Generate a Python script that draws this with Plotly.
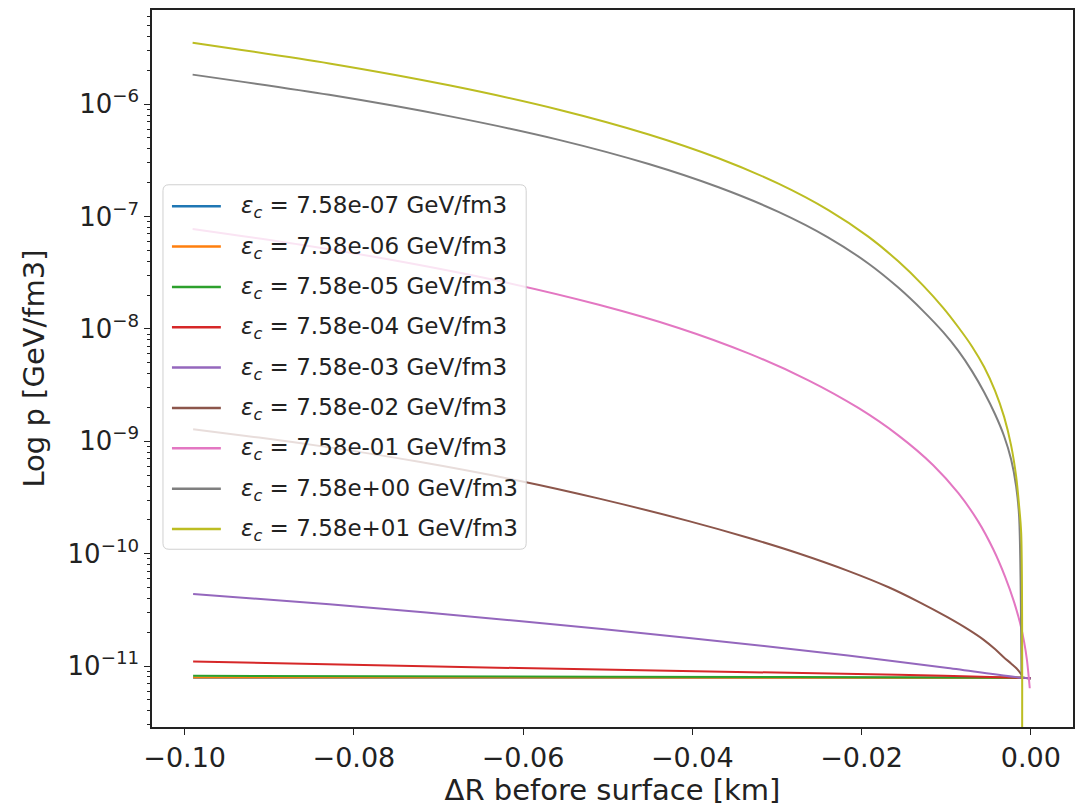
import plotly.graph_objects as go

# Central energy densities of the stellar models (GeV/fm3)
eps_c = ["7.58e-07", "7.58e-06", "7.58e-05", "7.58e-04", "7.58e-03",
         "7.58e-02", "7.58e-01", "7.58e+00", "7.58e+01"]

colors = ["#1f77b4", "#ff7f0e", "#2ca02c", "#d62728", "#9467bd",
          "#8c564b", "#e377c2", "#7f7f7f", "#bcbd22"]

# Pressure profiles (GeV/fm3) in the last 0.1 km below the surface (km)
dr_0 = [-0.0990, -0.0011, 0.0000]
p_0 = [7.88e-12, 7.87e-12, 7.79e-12]

dr_1 = [-0.0990, -0.0011, 0.0000]
p_1 = [7.92e-12, 7.87e-12, 7.79e-12]

dr_2 = [-0.0990, -0.0500, -0.0011, 0.0000]
p_2 = [8.20e-12, 8.02e-12, 7.87e-12, 7.79e-12]

dr_3 = [-0.0990, -0.0605, -0.0157, -0.0011, 0.0000]
p_3 = [1.10e-11, 9.60e-12, 8.37e-12, 7.87e-12, 7.79e-12]

dr_4 = [-0.0990, -0.0829, -0.0605, -0.0404, -0.0216, -0.0098, -0.0011, 0.0000]
p_4 = [4.39e-11, 3.55e-11, 2.52e-11, 1.78e-11, 1.24e-11, 9.62e-12, 7.87e-12,
       7.79e-12]

dr_5 = [-0.0990, -0.0912, -0.0829, -0.0723, -0.0605, -0.0510, -0.0404,
        -0.0333, -0.0275, -0.0216, -0.0168, -0.0133, -0.0098, -0.0074,
        -0.0056, -0.0042, -0.0032, -0.0023, -0.0017, -0.0011]
p_5 = [1.28e-09, 1.08e-09, 8.83e-10, 6.57e-10, 4.46e-10, 3.09e-10, 1.95e-10,
       1.38e-10, 1.01e-10, 7.04e-11, 5.03e-11, 3.75e-11, 2.71e-11, 2.12e-11,
       1.72e-11, 1.41e-11, 1.20e-11, 1.05e-11, 9.56e-12, 8.40e-12]

dr_6 = [-0.09906, -0.08645, -0.07465, -0.06285, -0.05105, -0.04162, -0.03336,
        -0.02628, -0.02038, -0.01566, -0.01153, -0.00858, -0.00622, -0.00445,
        -0.00303, -0.00197, -0.00126, -0.00079, -0.00044, -0.00012]
p_6 = [7.76e-08, 5.64e-08, 4.00e-08, 2.67e-08, 1.64e-08, 1.02e-08, 6.06e-09,
       3.49e-09, 1.98e-09, 1.13e-09, 6.13e-10, 3.47e-10, 1.94e-10, 1.10e-10,
       6.22e-11, 3.71e-11, 2.40e-11, 1.65e-11, 1.11e-11, 6.35e-12]

dr_7 = [-0.09906, -0.08291, -0.06875, -0.05577, -0.04515, -0.03690, -0.02982,
        -0.02392, -0.01920, -0.01566, -0.01271, -0.01035, -0.00858, -0.00693,
        -0.00551, -0.00422, -0.00315, -0.00232, -0.00173, -0.00138, -0.00110]
p_7 = [1.83e-06, 1.21e-06, 7.82e-07, 4.81e-07, 2.93e-07, 1.82e-07, 1.10e-07,
       6.50e-08, 3.82e-08, 2.33e-08, 1.44e-08, 9.35e-09, 6.40e-09, 4.19e-09,
       2.73e-09, 1.74e-09, 1.11e-09, 6.88e-10, 3.98e-10, 2.15e-10, 7.87e-12]

dr_8 = [-0.09906, -0.08291, -0.06875, -0.05577, -0.04515, -0.03690, -0.02982,
        -0.02392, -0.01920, -0.01566, -0.01271, -0.01035, -0.00858, -0.00693,
        -0.00551, -0.00422, -0.00315, -0.00232, -0.00173, -0.00138, -0.00113,
        -0.00111]
p_8 = [3.52e-06, 2.30e-06, 1.47e-06, 8.92e-07, 5.37e-07, 3.30e-07, 1.96e-07,
       1.14e-07, 6.62e-08, 3.99e-08, 2.43e-08, 1.54e-08, 1.04e-08, 6.95e-09,
       4.58e-09, 2.81e-09, 1.65e-09, 9.16e-10, 4.88e-10, 2.67e-10, 1.50e-10,
       1.00e-14]

profiles = [(dr_0, p_0), (dr_1, p_1), (dr_2, p_2), (dr_3, p_3), (dr_4, p_4),
            (dr_5, p_5), (dr_6, p_6), (dr_7, p_7), (dr_8, p_8)]

x_ticks = [-0.10, -0.08, -0.06, -0.04, -0.02, 0.00]
x_ticktext = ["\u22120.10", "\u22120.08", "\u22120.06", "\u22120.04", "\u22120.02", "0.00"]
y_exponents = [-11, -10, -9, -8, -7, -6]

FONT = "DejaVu Sans"
TEXT = "#222222"

# plot-area geometry (pixels) used to place the legend box in paper units
W, H = 1082, 808
ML, MR, MT, MB = 152, 7, 10, 80
PW, PH = W - ML - MR, H - MT - MB


def px_x(px):
    return (px - ML) / PW


def px_y(py):
    return (H - MB - py) / PH


fig = go.Figure()
labels = []
for i, ((dr, p), eps, col) in enumerate(zip(profiles, eps_c, colors)):
    label = f"<i>\u03b5<sub>c</sub></i> = {eps} GeV/fm3"
    labels.append(label)
    fig.add_trace(go.Scatter(
        x=dr, y=p, mode="lines",
        line=dict(color=col, width=2, shape="spline", smoothing=0.8),
        name=label, showlegend=False,
    ))

# legend: rounded translucent frame, line samples and labels
bx0, bx1 = px_x(163), px_x(527)
by1, by0 = px_y(185), px_y(550)
rx, ry = 6 / PW, 6 / PH
frame = (f"M{bx0 + rx},{by1} L{bx1 - rx},{by1} Q{bx1},{by1} {bx1},{by1 - ry} "
         f"L{bx1},{by0 + ry} Q{bx1},{by0} {bx1 - rx},{by0} "
         f"L{bx0 + rx},{by0} Q{bx0},{by0} {bx0},{by0 + ry} "
         f"L{bx0},{by1 - ry} Q{bx0},{by1} {bx0 + rx},{by1} Z")
shapes = [dict(type="path", path=frame, xref="paper", yref="paper",
               fillcolor="rgba(255,255,255,0.8)",
               line=dict(color="#d0d0d0", width=1), layer="above")]
annotations = []
for i, (label, col) in enumerate(zip(labels, colors)):
    row_px = 206.5 + 40.4 * i
    shapes.append(dict(type="line", xref="paper", yref="paper",
                       x0=px_x(172), x1=px_x(221), y0=px_y(row_px), y1=px_y(row_px),
                       line=dict(color=col, width=2.5), layer="above"))
    annotations.append(dict(text=label, xref="paper", yref="paper",
                            x=px_x(239), y=px_y(row_px + 1), xanchor="left",
                            yanchor="middle", showarrow=False,
                            font=dict(family=FONT, size=23, color=TEXT)))

minor_vals = [m * 10.0 ** e for e in range(-12, -4) for m in range(2, 10)]

fig.update_layout(
    width=W, height=H,
    margin=dict(l=ML, r=MR, t=MT, b=MB),
    paper_bgcolor="white", plot_bgcolor="white",
    font=dict(family=FONT, color=TEXT),
    showlegend=False,
    shapes=shapes,
    annotations=annotations,
    xaxis=dict(
        range=[-0.10386, 0.00499],
        tickmode="array", tickvals=x_ticks, ticktext=x_ticktext,
        ticks="outside", ticklen=6, tickwidth=1.3, tickcolor=TEXT,
        tickfont=dict(family=FONT, size=27, color=TEXT),
        showline=True, linecolor=TEXT, linewidth=1.5, mirror=True,
        showgrid=False, zeroline=False,
        title=dict(text="\u0394R before surface [km]",
                   font=dict(family=FONT, size=29, color=TEXT),
                   standoff=8),
    ),
    yaxis=dict(
        type="log",
        range=[-11.542, -5.1625],
        tickmode="array",
        tickvals=[10.0 ** e for e in y_exponents],
        ticktext=[f"10<sup>\u2212{-e}</sup>" for e in y_exponents],
        ticks="outside", ticklen=6, tickwidth=1.3, tickcolor=TEXT,
        tickfont=dict(family=FONT, size=26, color=TEXT),
        minor=dict(tickmode="array", tickvals=minor_vals, ticks="outside",
                   ticklen=3, tickwidth=1, tickcolor=TEXT, showgrid=False),
        showline=True, linecolor=TEXT, linewidth=1.5, mirror=True,
        showgrid=False, zeroline=False,
        title=dict(text="Log p [GeV/fm3]",
                   font=dict(family=FONT, size=29, color=TEXT),
                   standoff=14),
    ),
)

fig.write_html("out.html")
